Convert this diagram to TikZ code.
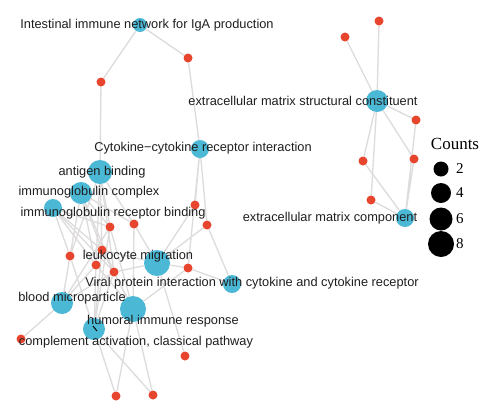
\documentclass[tikz,border=0pt]{standalone}
\usepackage{fontspec}
\setmainfont{Liberation Sans}
\newfontfamily\legendfont{Liberation Serif}
\definecolor{termblue}{HTML}{4BB8D5}
\definecolor{genered}{HTML}{E8452F}
\definecolor{edgegray}{HTML}{DDDBDB}
\pgfdeclarelayer{bg}
\pgfsetlayers{bg,main}
\tikzset{
  term/.style={circle,fill=termblue,inner sep=0pt,minimum size=#1},
  gene/.style={circle,fill=genered,inner sep=0pt,minimum size=9pt},
  lbl/.style={font=\fontsize{12.8}{14}\selectfont,inner sep=0pt,text=black!88},
  link/.style={draw=edgegray,line width=1.3pt},
  legdot/.style={circle,fill=black,inner sep=0pt,minimum size=#1},
  legnum/.style={font=\legendfont\fontsize{15}{17}\selectfont,inner sep=0pt,anchor=west},
}
\begin{document}
\begin{tikzpicture}[x=1pt,y=-1pt]
\useasboundingbox (0,0) rectangle (500,418);

% term nodes
\node[term=14pt] (iga) at (140,25) {};
\node[term=22pt] (ecms) at (377,101) {};
\node[term=18pt] (ecmc) at (405,218) {};
\node[term=18pt] (cyto) at (200,149) {};
\node[term=24pt] (antigen) at (100,172) {};
\node[term=22pt] (igcomplex) at (81,193) {};
\node[term=18pt] (igrec) at (53,208) {};
\node[term=26pt] (leuk) at (157,263) {};
\node[term=18pt] (viral) at (232,284) {};
\node[term=22pt] (blood) at (62,303) {};
\node[term=26pt] (humoral) at (133,309) {};
\node[term=22pt] (compl) at (94,329) {};

% gene nodes
\node[gene] (g1) at (101,82) {};
\node[gene] (g2) at (188,58) {};
\node[gene] (g3) at (345,37) {};
\node[gene] (g4) at (379,21) {};
\node[gene] (g5) at (416,120) {};
\node[gene] (g6) at (414,159) {};
\node[gene] (g7) at (363,161) {};
\node[gene] (g8) at (371,200) {};
\node[gene] (g9) at (195,205) {};
\node[gene] (g10) at (207,225) {};
\node[gene] (g11) at (134,224) {};
\node[gene] (g12) at (110,227) {};
\node[gene] (g13) at (102,250) {};
\node[gene] (g14) at (70,256) {};
\node[gene] (g15) at (96,265) {};
\node[gene] (g16) at (114,272) {};
\node[gene] (g17) at (188,268) {};
\node[gene] (g18) at (21,339) {};
\node[gene] (g19) at (185,356) {};
\node[gene] (g20) at (116,396) {};
\node[gene] (g21) at (153,395) {};

\begin{pgfonlayer}{bg}
\fill[white] (0,0) rectangle (500,418);
\path[link] (iga) -- (g1) (iga) -- (g2) (g1) -- (antigen) (g2) -- (cyto);
\path[link] (ecms) -- (g3) (ecms) -- (g4) (ecms) -- (g5) (ecms) -- (g6)
  (ecms) -- (g7) (ecms) -- (g8);
\path[link] (ecmc) -- (g5) (ecmc) -- (g6) (ecmc) -- (g7) (ecmc) -- (g8);
\path[link] (cyto) -- (g9) (cyto) -- (g10) (cyto) -- (g17)
  (g9) -- (leuk) (g10) -- (viral) (g10) -- (leuk)
  (g17) -- (viral) (g17) -- (leuk) (g17) -- (humoral);
\path[link] (g11) -- (leuk) (g11) -- (antigen) (g11) -- (humoral) (g11) -- (igcomplex);
\path[link] (g19) -- (leuk) (g20) -- (compl) (g20) -- (humoral)
  (g21) -- (humoral) (g21) -- (compl) (g18) -- (blood);
\path[link] (g12) -- (antigen) (g12) -- (igcomplex) (g12) -- (igrec)
  (g12) -- (blood) (g12) -- (humoral) (g12) -- (compl);
\path[link] (g13) -- (antigen) (g13) -- (igcomplex) (g13) -- (igrec)
  (g13) -- (leuk) (g13) -- (humoral) (g13) -- (compl);
\path[link] (g14) -- (igrec) (g14) -- (igcomplex) (g14) -- (blood)
  (g14) -- (compl) (g14) -- (antigen);
\path[link] (g15) -- (antigen) (g15) -- (igcomplex) (g15) -- (igrec)
  (g15) -- (blood) (g15) -- (humoral) (g15) -- (compl);
\path[link] (g16) -- (antigen) (g16) -- (igcomplex) (g16) -- (igrec)
  (g16) -- (leuk) (g16) -- (humoral) (g16) -- (compl) (g16) -- (blood);
\end{pgfonlayer}

% small black tick inside complement node
\coordinate (tka) at (93,326);
\coordinate (tkb) at (97,331);
\draw[line width=1pt] (tka) -- (tkb);

% labels
\node[lbl] (l1) at (147,25) {Intestinal immune network for IgA production};
\node[lbl] (l2) at (303,101) {extracellular matrix structural constituent};
\node[lbl] (l3) at (203,148) {Cytokine−cytokine receptor interaction};
\node[lbl] (l4) at (102,172) {antigen binding};
\node[lbl] (l5) at (89,192) {immunoglobulin complex};
\node[lbl] (l6) at (113,213) {immunoglobulin receptor binding};
\node[lbl] (l7) at (330,218) {extracellular matrix component};
\node[lbl] (l8) at (138,256) {leukocyte migration};
\node[lbl] (l9) at (252,283) {Viral protein interaction with cytokine and cytokine receptor};
\node[lbl] (l10) at (72,298) {blood microparticle};
\node[lbl] (l11) at (163,321) {humoral immune response};
\node[lbl] (l12) at (136,342) {complement activation, classical pathway};

% legend
\node[font=\legendfont\fontsize{17}{19}\selectfont,inner sep=0pt] (lgt) at (455,144) {Counts};
\node[legdot=15pt] (d2) at (441,169) {};
\node[legdot=20pt] (d4) at (441,193) {};
\node[legdot=23pt] (d6) at (441,219) {};
\node[legdot=26pt] (d8) at (441,244) {};
\node[legnum] (n2) at (456,169) {2};
\node[legnum] (n4) at (456,193) {4};
\node[legnum] (n6) at (456,219) {6};
\node[legnum] (n8) at (456,244) {8};
\end{tikzpicture}
\end{document}
